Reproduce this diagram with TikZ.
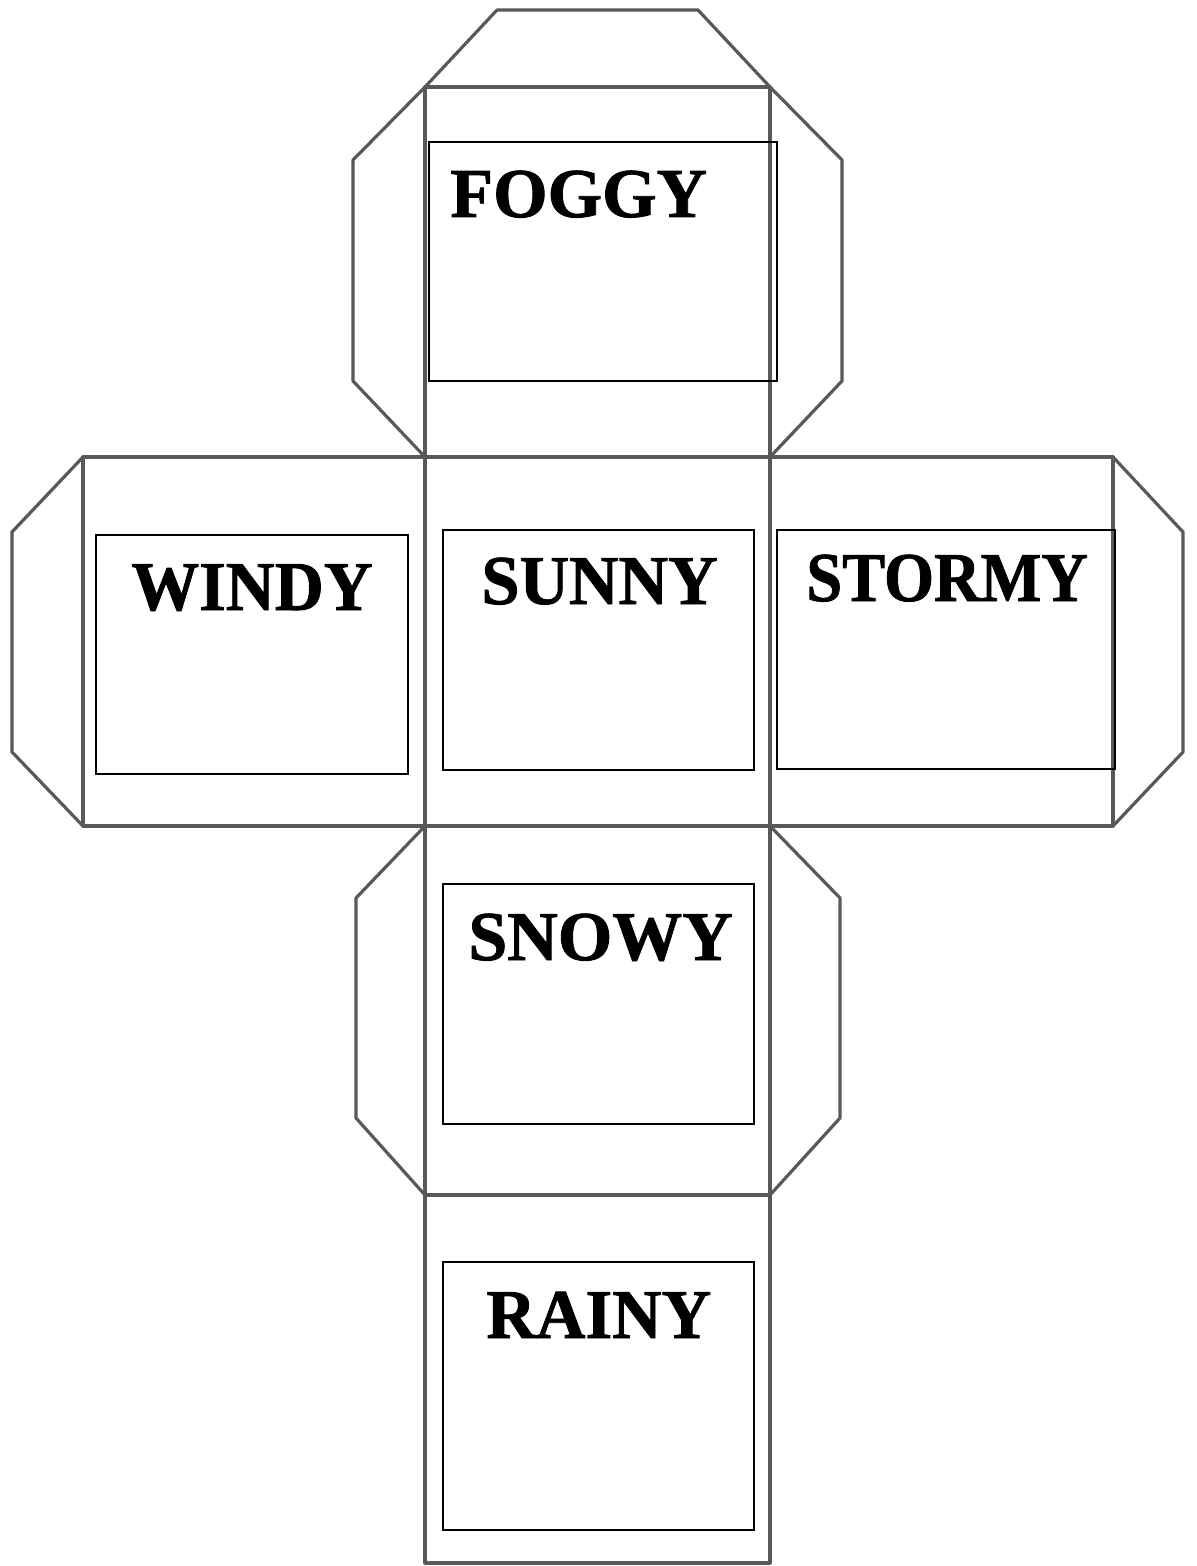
\documentclass[tikz,border=0pt]{standalone}
\usepackage{fontspec}
\setmainfont{Liberation Serif}
\newfontfamily\cubelabelfont{Liberation Serif Bold}[FakeBold=1.2]
\begin{document}
\begin{tikzpicture}[x=0.5pt,y=-0.5pt,
  fold/.style={draw=black!65, line width=1.6pt, line join=round},
  innerbox/.style={draw=black, line width=1pt, inner sep=0pt, outer sep=0pt, anchor=north west},
  label/.style={anchor=base west, inner sep=0pt, font=\fontsize{35}{40}\selectfont\cubelabelfont}]
\useasboundingbox[fill=white] (0,0) rectangle (1196,1566);
% corner coordinates
\coordinate (ctl) at (425,87);
\coordinate (ctr) at (770,87);
\coordinate (m1l) at (425,457);
\coordinate (m1r) at (770,457);
\coordinate (m2l) at (425,826);
\coordinate (m2r) at (770,826);
\coordinate (m3l) at (425,1195);
\coordinate (m3r) at (770,1195);
\coordinate (cbl) at (425,1563);
\coordinate (cbr) at (770,1563);
\coordinate (wl1) at (83,457);
\coordinate (wl2) at (83,826);
\coordinate (sr1) at (1113,457);
\coordinate (sr2) at (1113,826);
% tabs
\draw[fold] (ctl) -- (497,10) -- (698,10) -- (ctr);
\draw[fold] (ctl) -- (353,160) -- (353,381) -- (m1l);
\draw[fold] (ctr) -- (842,160) -- (842,381) -- (m1r);
\draw[fold] (wl1) -- (12,532) -- (12,752) -- (wl2);
\draw[fold] (sr1) -- (1183,532) -- (1183,752) -- (sr2);
\draw[fold] (m2l) -- (356,898) -- (356,1118) -- (m3l);
\draw[fold] (m2r) -- (840,898) -- (840,1118) -- (m3r);
% faces
\draw[fold] (ctl) -- (ctr) -- (cbr) -- (cbl) -- cycle;
\draw[fold] (wl1) -- (sr1) -- (sr2) -- (wl2) -- cycle;
\draw[fold] (m3l) -- (m3r);
% inner boxes
\node[innerbox, minimum width=174pt, minimum height=119.5pt] (bfoggy) at (429,142) {};
\node[innerbox, minimum width=156pt, minimum height=119.5pt] (bwindy) at (96,535) {};
\node[innerbox, minimum width=155.5pt, minimum height=120pt] (bsunny) at (443,530) {};
\node[innerbox, minimum width=169pt, minimum height=119.5pt] (bstormy) at (777,530) {};
\node[innerbox, minimum width=155.5pt, minimum height=120pt] (bsnowy) at (443,884) {};
\node[innerbox, minimum width=155.5pt, minimum height=134pt] (brainy) at (443,1262) {};
% labels
\node[label] (tfoggy) at (450,217) {FOGGY};
\node[label, xscale=0.97] (twindy) at (131,610) {WINDY};
\node[label, xscale=0.98] (tsunny) at (481,604) {SUNNY};
\node[label, xscale=0.92] (tstormy) at (806,601) {STORMY};
\node[label] (tsnowy) at (468,960) {SNOWY};
\node[label, xscale=0.98] (trainy) at (486,1338) {RAINY};
\end{tikzpicture}
\end{document}
